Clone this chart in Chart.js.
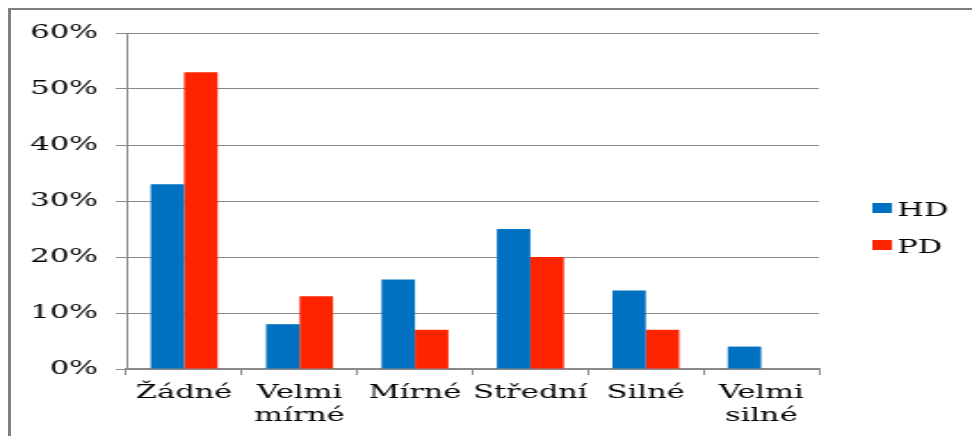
<!DOCTYPE html>
<html lang="cs">
<head>
<meta charset="UTF-8">
<title>HD / PD</title>
<style>
    body { margin: 0; background: #fff; overflow: hidden; width: 972px; height: 436px; position: relative; }
    .frame { position: absolute; left: 8px; top: 8px; width: 2000px; height: 1000px; border-left: 3px solid #808080; border-top: 2px solid #808080; }
    /* chart is drawn narrow and stretched sideways */
    .wrap { position: absolute; left: 0; top: 0; width: 546px; height: 436px; transform: scaleX(1.7802); transform-origin: 0 0; }
</style>
</head>
<body>
<div class="frame"></div>
<div class="wrap"><canvas id="chart"></canvas></div>

<script src="https://cdn.jsdelivr.net/npm/chart.js"></script>
<script>
    const categories = ['Žádné', ['Velmi', 'mírné'], 'Mírné', 'Střední', 'Silné', ['Velmi', 'silné']];
    const hdValues = [33, 8, 16, 25, 14, 4];
    const pdValues = [53, 13, 7, 20, 7, 0];
    const yTicks = [0, 10, 20, 30, 40, 50, 60];

    const font = { family: '"DejaVu Serif Condensed", "DejaVu Serif", serif', size: 19 };

    // legend on the right, boxes + labels
    const sideLegend = {
        id: 'sideLegend',
        afterDraw(chart) {
            const ctx = chart.ctx;
            const x = chart.chartArea.right + 30;
            let y = chart.chartArea.top + 170;
            ctx.save();
            ctx.font = font.size + 'px ' + font.family;
            ctx.textBaseline = 'alphabetic';
            chart.data.datasets.forEach(ds => {
                ctx.fillStyle = ds.backgroundColor;
                ctx.fillRect(x, y, 11, 10);
                ctx.fillStyle = '#000';
                ctx.fillText(ds.label, x + 14, y + 13);
                y += 37;
            });
            ctx.restore();
        }
    };

    new Chart(document.getElementById('chart'), {
        type: 'bar',
        data: {
            labels: categories,
            datasets: [
                { label: 'HD', data: hdValues, backgroundColor: '#0070c0', borderWidth: 0 },
                { label: 'PD', data: pdValues, backgroundColor: '#ff2400', borderWidth: 0 }
            ]
        },
        options: {
            responsive: true,
            maintainAspectRatio: false,
            devicePixelRatio: 1,
            animation: false,
            categoryPercentage: 0.58,
            barPercentage: 1,
            layout: { padding: { top: 33, right: 86, bottom: 0, left: 0 } },
            plugins: { legend: { display: false }, tooltip: { enabled: false } },
            scales: {
                x: {
                    grid: { display: true, drawOnChartArea: false, drawTicks: true, tickLength: 6, color: '#8a8a8a', offset: true },
                    border: { color: '#8a8a8a', width: 1.5 },
                    ticks: { color: '#000', font: { ...font, lineHeight: 1.2 }, padding: 7, maxRotation: 0, autoSkip: false },
                    afterFit(scale) { scale.height = 67; }
                },
                y: {
                    min: 0,
                    max: 60,
                    afterBuildTicks(scale) { scale.ticks = yTicks.map(v => ({ value: v })); },
                    grid: { color: '#8a8a8a', lineWidth: 1, tickLength: 6 },
                    border: { color: '#8a8a8a', width: 1 },
                    ticks: { color: '#000', font: font, padding: 10, callback: v => v + '%' },
                    afterFit(scale) { scale.width = 71; }
                }
            }
        },
        plugins: [sideLegend]
    });
</script>
</body>
</html>
